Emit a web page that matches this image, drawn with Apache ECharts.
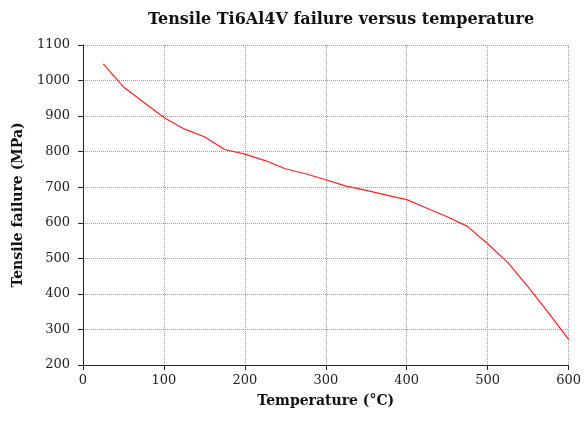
<!DOCTYPE html>
<html>
<head>
<meta charset="utf-8">
<script src="https://cdn.jsdelivr.net/npm/echarts@6/dist/echarts.min.js"></script>
<style>html,body{margin:0;padding:0;background:#fff}#c{width:584px;height:423px}</style>
</head>
<body>
<div id="c"></div>
<script>
const temperatures = [25, 50, 75, 100, 125, 150, 175, 200, 225, 250, 275, 300, 325, 350, 375, 400, 425, 450, 475, 500, 525, 550, 575, 600];
const failureMPa = [1047, 982, 939, 896, 864, 842, 806, 793, 775, 752, 738, 721, 703, 691, 678, 665, 641, 617, 590, 541, 488, 420, 347, 272];
const xTicks = [0, 100, 200, 300, 400, 500, 600];
const yTicks = [200, 300, 400, 500, 600, 700, 800, 900, 1000, 1100];

const serif = '"DejaVu Serif", "Liberation Serif", serif';
const chart = echarts.init(document.getElementById('c'), null, {renderer: 'canvas'});
chart.setOption({
  animation: false,
  backgroundColor: '#fff',
  title: {
    text: 'Tensile Ti6Al4V failure versus temperature',
    left: 336, top: 7, textAlign: 'center',
    textStyle: {fontFamily: serif, fontWeight: 'bold', fontSize: 16, color: '#111'}
  },
  grid: {left: 83, right: 12, top: 45, bottom: 58},
  xAxis: {
    type: 'value', min: xTicks[0], max: xTicks[xTicks.length - 1], interval: 100,
    name: 'Temperature (°C)', nameLocation: 'middle', nameGap: 29,
    nameTextStyle: {fontFamily: serif, fontWeight: 'bold', fontSize: 14, color: '#111'},
    axisLine: {show: true, onZero: false, lineStyle: {color: '#222', width: 1}},
    axisTick: {show: true, inside: false, length: 5, lineStyle: {color: '#222'}},
    axisLabel: {fontFamily: serif, fontSize: 13, color: '#222', margin: 9, formatter: v => String(v)},
    splitLine: {show: true, lineStyle: {color: '#999', type: [1, 1], width: 1}}
  },
  yAxis: {
    type: 'value', min: yTicks[0], max: yTicks[yTicks.length - 1], interval: 100,
    name: 'Tensile failure (MPa)', nameLocation: 'middle', nameGap: 58, nameRotate: 90,
    nameTextStyle: {fontFamily: serif, fontWeight: 'bold', fontSize: 14, color: '#111'},
    axisLine: {show: true, onZero: false, lineStyle: {color: '#222', width: 1}},
    axisTick: {show: true, inside: false, length: 5, lineStyle: {color: '#222'}},
    axisLabel: {fontFamily: serif, fontSize: 13, color: '#222', margin: 13, formatter: v => String(v)},
    splitLine: {show: true, lineStyle: {color: '#999', type: [1, 1], width: 1}}
  },
  series: [{
    type: 'line',
    data: temperatures.map((t, i) => [t, failureMPa[i]]),
    showSymbol: false,
    lineStyle: {color: '#ff2020', width: 1.2},
    itemStyle: {color: '#ff2020'}
  }]
});
</script>
</body>
</html>
